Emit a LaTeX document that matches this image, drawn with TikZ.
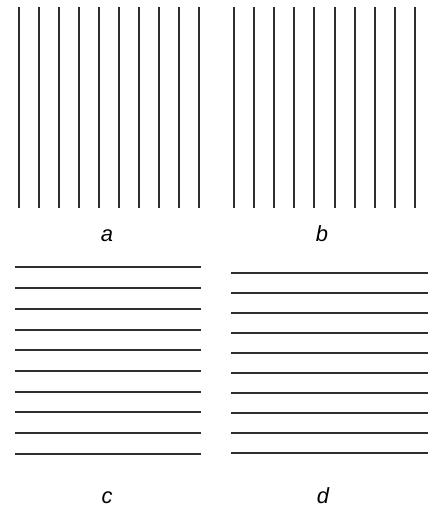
\documentclass[tikz,border=0pt]{standalone}
\usepackage{fontspec}
\setmainfont{Liberation Sans}
\definecolor{stripe}{HTML}{2E2E2E}
\tikzset{
  bar/.style={draw=stripe, line width=2.6bp},
  panellabel/.style={anchor=base, inner sep=0pt, font=\fontsize{22}{26}\selectfont\itshape}
}
\begin{document}
\begin{tikzpicture}[x=1bp, y=-1bp]
    \useasboundingbox (0,0) rectangle (428,508);
    % Panel a
    \foreach \x in {19,39,59,79,99,119,139,159,179,199}
        \draw[bar] (\x,7) -- (\x,208);
    \node[panellabel] (la) at (107,241) {a};
    % Panel b
    \foreach \x in {234,254,274,294,314,335,355,375,395,415}
        \draw[bar] (\x,7) -- (\x,208);
    \node[panellabel] (lb) at (322,241) {b};
    % Panel c
    \foreach \y in {267,288,309,330,350,371,392,412,433,454}
        \draw[bar] (15,\y) -- (201,\y);
    \node[panellabel] (lc) at (107,503.5) {c};
    % Panel d
    \foreach \y in {273,293,313,333,353,373,393,413,433,453}
        \draw[bar] (231,\y) -- (428,\y);
    \node[panellabel] (ld) at (323,503.5) {d};
\end{tikzpicture}
\end{document}
